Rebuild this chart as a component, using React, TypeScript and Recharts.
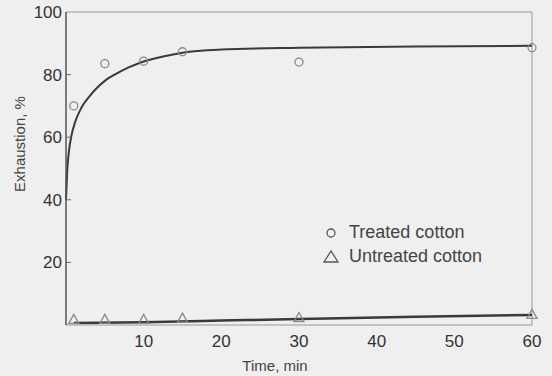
import React from 'react';
import { ComposedChart, Line, Scatter, XAxis, YAxis, ReferenceLine } from 'recharts';

// measured points
const sampleTimes = [1, 5, 10, 15, 30, 60];
const treatedValues = [70, 83.5, 84.3, 87.3, 84, 88.6];
const untreatedValues = [1.8, 1.8, 1.8, 2.2, 2.4, 3.4];

// fitted curves
const treatedCurveTimes = [0, 0.15, 0.35, 0.7, 1.2, 2, 3, 4, 5, 6.5, 8, 10, 12.5, 15, 20, 30, 45, 60];
const treatedCurveValues = [40, 49, 55, 60.5, 65, 69.5, 73, 75.8, 78, 80.3, 82.2, 84.2, 85.8, 87, 88, 88.6, 89, 89.2];
const untreatedCurveTimes = [1, 10, 20, 30, 45, 60];
const untreatedCurveValues = [0.6, 0.9, 1.4, 1.9, 2.6, 3.2];

const xTicks = [10, 20, 30, 40, 50, 60];
const yTicks = [20, 40, 60, 80, 100];

const legendItems = [
  { name: 'Treated cotton', shape: 'circle' },
  { name: 'Untreated cotton', shape: 'triangle' },
];

const treatedPoints = sampleTimes.map((t, i) => ({ t, v: treatedValues[i] }));
const untreatedPoints = sampleTimes.map((t, i) => ({ t, v: untreatedValues[i] }));
const treatedCurve = treatedCurveTimes.map((t, i) => ({ t, v: treatedCurveValues[i] }));
const untreatedCurve = untreatedCurveTimes.map((t, i) => ({ t, v: untreatedCurveValues[i] }));

const FONT = '"Liberation Sans", Arial, sans-serif';
const MARK = '#8a8a8a';

const CircleMark = (props: any) => (
  <circle cx={props.cx} cy={props.cy} r={4} fill="none" stroke={MARK} strokeWidth={1.3} />
);

const TriangleMark = (props: any) => {
  const { cx, cy } = props;
  return (
    <polygon
      points={`${cx},${cy - 5} ${cx - 5},${cy + 4} ${cx + 5},${cy + 4}`}
      fill="none"
      stroke={MARK}
      strokeWidth={1.3}
    />
  );
};

const YTick = (props: any) => {
  const { x, y, payload } = props;
  return (
    <g>
      <text x={x} y={y} dy={6} textAnchor="end" fill="#333" fontSize={17} fontFamily={FONT}>
        {payload.value}
      </text>
      {payload.value !== 100 && <line x1={x + 4} x2={x + 9} y1={y} y2={y} stroke="#666" strokeWidth={1} />}
    </g>
  );
};

const XLabel = (props: any) => {
  const vb = props.viewBox;
  return (
    <text x={vb.x + vb.width / 2 - 24} y={vb.y + 46} textAnchor="middle" fill="#444" fontSize={15} fontFamily={FONT}>
      Time, min
    </text>
  );
};

const YLabel = (props: any) => {
  const vb = props.viewBox;
  const cy = vb.y + 132;
  return (
    <text x={25} y={cy} transform={`rotate(-90 25 ${cy})`} textAnchor="middle" fill="#444" fontSize={15} fontFamily={FONT}>
      Exhaustion, %
    </text>
  );
};

const LegendBox = () => (
  <div style={{ position: 'absolute', left: 322, top: 220, fontFamily: FONT, fontSize: 18, color: '#444', lineHeight: '24px' }}>
    {legendItems.map((it) => (
      <div key={it.name} style={{ display: 'flex', alignItems: 'center' }}>
        <svg width={18} height={16} style={{ marginRight: 9 }}>
          {it.shape === 'circle' ? (
            <circle cx={9} cy={9} r={4} fill="none" stroke="#555" strokeWidth={1.3} />
          ) : (
            <polygon points="9,3 2,14 16,14" fill="none" stroke="#555" strokeWidth={1.3} />
          )}
        </svg>
        <span>{it.name}</span>
      </div>
    ))}
  </div>
);

export default function App() {
  return (
    <div style={{ position: 'absolute', left: 0, top: 0, width: 552, height: 376, background: '#efefef' }}>
      <ComposedChart width={552} height={376} margin={{ top: 12, right: 20, left: 0, bottom: 21 }}>
        <XAxis
          type="number"
          dataKey="t"
          domain={[0, 60]}
          ticks={xTicks}
          tickLine={false}
          tickMargin={4}
          height={30}
          axisLine={{ stroke: '#999', strokeWidth: 1 }}
          tick={{ fill: '#333', fontSize: 17, fontFamily: FONT }}
          allowDuplicatedCategory={false}
          label={<XLabel />}
        />
        <YAxis
          type="number"
          dataKey="v"
          domain={[0, 100]}
          ticks={yTicks}
          width={66}
          tickSize={0}
          tickMargin={4}
          axisLine={{ stroke: '#555', strokeWidth: 1.5 }}
          tick={<YTick />}
          label={<YLabel />}
        />
        <ReferenceLine y={100} stroke="#999" strokeWidth={1} />
        <ReferenceLine x={60} stroke="#999" strokeWidth={1} />
        <Line data={treatedCurve} dataKey="v" type="monotone" stroke="#3a3a3a" strokeWidth={2} dot={false} isAnimationActive={false} />
        <Line data={untreatedCurve} dataKey="v" type="monotone" stroke="#3a3a3a" strokeWidth={2.5} dot={false} isAnimationActive={false} />
        <Scatter data={treatedPoints} dataKey="v" shape={<CircleMark />} isAnimationActive={false} />
        <Scatter data={untreatedPoints} dataKey="v" shape={<TriangleMark />} isAnimationActive={false} />
      </ComposedChart>
      <LegendBox />
    </div>
  );
}
